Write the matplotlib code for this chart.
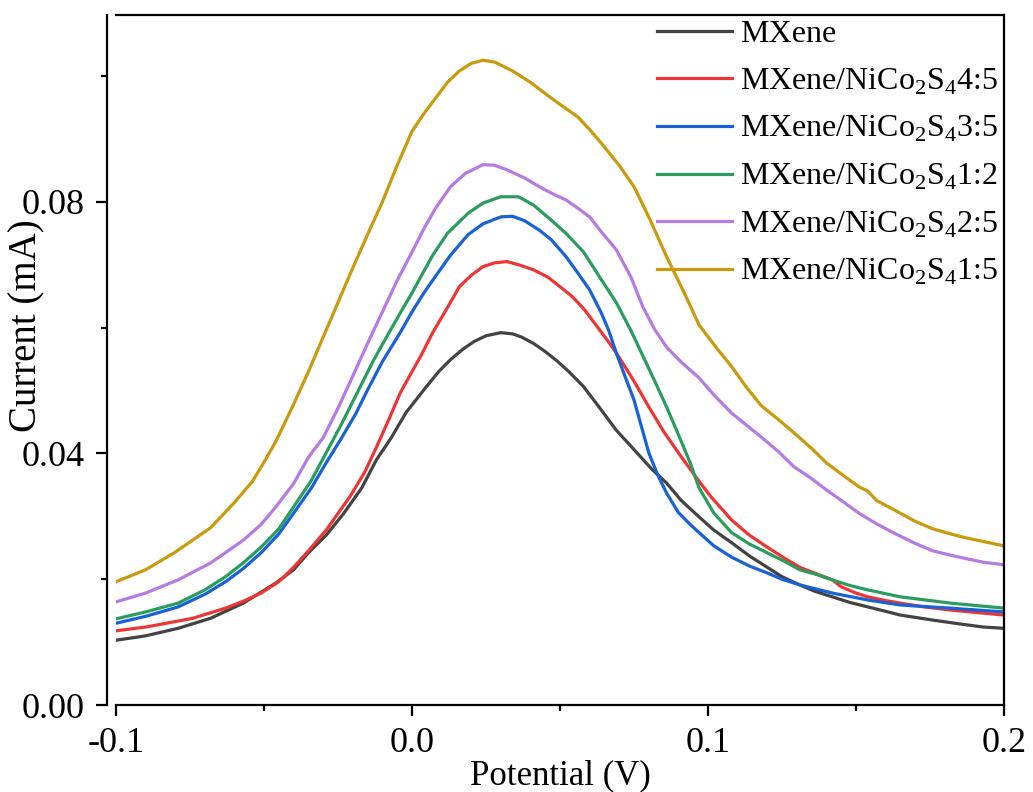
import numpy as np
import matplotlib
matplotlib.use('Agg')
import matplotlib.pyplot as plt
from matplotlib.ticker import MultipleLocator, FormatStrFormatter

plt.rcParams['font.family'] = ['Liberation Serif', 'DejaVu Serif']
plt.rcParams['mathtext.fontset'] = 'custom'
plt.rcParams['mathtext.rm'] = 'Liberation Serif'
plt.rcParams['axes.unicode_minus'] = False

# potential (V) / current (mA)
v_mx = [-0.100, -0.090, -0.079, -0.068, -0.057, -0.046, -0.040, -0.035, -0.029, -0.023, -0.017,
        -0.012, -0.007, -0.002, 0.004, 0.009, 0.013, 0.017, 0.021, 0.025, 0.030, 0.034, 0.037,
        0.041, 0.045, 0.049, 0.053, 0.058, 0.063, 0.069, 0.076, 0.081, 0.086, 0.091, 0.097,
        0.102, 0.108, 0.114, 0.120, 0.125, 0.131, 0.136, 0.142, 0.148, 0.154, 0.160, 0.165,
        0.176, 0.185, 0.193, 0.200]
i_mx = [0.0103, 0.0110, 0.0122, 0.0138, 0.0162, 0.0194, 0.0215, 0.0242, 0.0270, 0.0305, 0.0345,
        0.0390, 0.0425, 0.0465, 0.0501, 0.0530, 0.0549, 0.0565, 0.0578, 0.0587, 0.0592, 0.0590, 0.0585,
        0.0575, 0.0562, 0.0547, 0.0530, 0.0506, 0.0475, 0.0437, 0.0401, 0.0375, 0.0353, 0.0325, 0.0299,
        0.0278, 0.0258, 0.0237, 0.0219, 0.0204, 0.0191, 0.0181, 0.0172, 0.0163, 0.0156, 0.0149, 0.0143,
        0.0135, 0.0129, 0.0124, 0.0122]

v_45 = [-0.100, -0.090, -0.083, -0.074, -0.063, -0.057, -0.051, -0.045, -0.040, -0.035, -0.029,
        -0.021, -0.016, -0.012, -0.008, -0.004, 0.000, 0.003, 0.007, 0.012, 0.016, 0.020, 0.024,
        0.028, 0.032, 0.036, 0.041, 0.046, 0.050, 0.054, 0.058, 0.062, 0.066, 0.069, 0.075,
        0.080, 0.085, 0.090, 0.096, 0.101, 0.108, 0.114, 0.120, 0.126, 0.131, 0.137, 0.142,
        0.145, 0.150, 0.154, 0.160, 0.165, 0.173, 0.182, 0.191, 0.200]
i_45 = [0.0118, 0.0124, 0.0130, 0.0138, 0.0154, 0.0165, 0.0178, 0.0196, 0.0219, 0.0245, 0.0278,
        0.0331, 0.0370, 0.0410, 0.0452, 0.0496, 0.0530, 0.0555, 0.0592, 0.0632, 0.0665, 0.0683, 0.0697,
        0.0703, 0.0705, 0.0700, 0.0692, 0.0680, 0.0665, 0.0650, 0.0630, 0.0605, 0.0580, 0.0560, 0.0515,
        0.0474, 0.0435, 0.0401, 0.0362, 0.0331, 0.0294, 0.0270, 0.0251, 0.0233, 0.0219, 0.0208, 0.0199,
        0.0188, 0.0178, 0.0172, 0.0166, 0.0162, 0.0156, 0.0151, 0.0147, 0.0143]

v_35 = [-0.100, -0.090, -0.079, -0.070, -0.063, -0.057, -0.051, -0.045, -0.040, -0.034, -0.029,
        -0.024, -0.019, -0.015, -0.010, -0.004, 0.000, 0.004, 0.008, 0.013, 0.019, 0.024, 0.030,
        0.034, 0.038, 0.043, 0.047, 0.052, 0.056, 0.060, 0.064, 0.0665, 0.069, 0.072, 0.075,
        0.0775, 0.080, 0.083, 0.086, 0.090, 0.094, 0.097, 0.102, 0.108, 0.114, 0.120, 0.125,
        0.131, 0.142, 0.154, 0.165, 0.182, 0.200]
i_35 = [0.0130, 0.0141, 0.0156, 0.0176, 0.0196, 0.0217, 0.0242, 0.0272, 0.0305, 0.0345, 0.0385,
        0.0423, 0.0463, 0.0501, 0.0546, 0.0592, 0.0625, 0.0655, 0.0682, 0.0715, 0.0748, 0.0765, 0.0776,
        0.0777, 0.0770, 0.0755, 0.0740, 0.0713, 0.0687, 0.0660, 0.0623, 0.0595, 0.0560, 0.0522, 0.0485,
        0.0443, 0.0401, 0.0366, 0.0337, 0.0306, 0.0287, 0.0274, 0.0253, 0.0235, 0.0221, 0.0210, 0.0200,
        0.0191, 0.0178, 0.0167, 0.0159, 0.0154, 0.0148]

v_12 = [-0.100, -0.090, -0.079, -0.070, -0.063, -0.057, -0.051, -0.045, -0.040, -0.034, -0.029,
        -0.024, -0.018, -0.013, -0.008, -0.004, 0.000, 0.003, 0.007, 0.012, 0.019, 0.024, 0.030,
        0.036, 0.041, 0.047, 0.052, 0.058, 0.064, 0.069, 0.074, 0.078, 0.082, 0.086, 0.090,
        0.094, 0.097, 0.102, 0.108, 0.114, 0.120, 0.126, 0.131, 0.137, 0.142, 0.148, 0.154,
        0.165, 0.182, 0.200]
i_12 = [0.0137, 0.0148, 0.0162, 0.0183, 0.0204, 0.0226, 0.0251, 0.0280, 0.0315, 0.0357, 0.0401,
        0.0445, 0.0501, 0.0548, 0.0590, 0.0623, 0.0655, 0.0681, 0.0715, 0.0750, 0.0782, 0.0798, 0.0808,
        0.0808, 0.0795, 0.0771, 0.0750, 0.0720, 0.0676, 0.0640, 0.0595, 0.0555, 0.0515, 0.0474, 0.0430,
        0.0385, 0.0345, 0.0305, 0.0274, 0.0256, 0.0242, 0.0228, 0.0215, 0.0207, 0.0199, 0.0190, 0.0183,
        0.0172, 0.0162, 0.0154]

v_25 = [-0.100, -0.090, -0.079, -0.068, -0.057, -0.051, -0.046, -0.040, -0.035, -0.030, -0.025,
        -0.020, -0.015, -0.010, -0.005, 0.000, 0.004, 0.008, 0.013, 0.018, 0.024, 0.028, 0.032,
        0.038, 0.043, 0.047, 0.052, 0.056, 0.060, 0.064, 0.069, 0.074, 0.078, 0.082, 0.086,
        0.091, 0.097, 0.102, 0.108, 0.113, 0.118, 0.124, 0.129, 0.135, 0.140, 0.146, 0.151,
        0.157, 0.163, 0.170, 0.176, 0.184, 0.193, 0.200]
i_25 = [0.0164, 0.0178, 0.0199, 0.0226, 0.0262, 0.0287, 0.0315, 0.0352, 0.0394, 0.0425, 0.0472,
        0.0523, 0.0575, 0.0625, 0.0675, 0.0720, 0.0757, 0.0790, 0.0824, 0.0845, 0.0859, 0.0858, 0.0851,
        0.0838, 0.0824, 0.0814, 0.0803, 0.0790, 0.0776, 0.0752, 0.0724, 0.0680, 0.0633, 0.0597, 0.0569,
        0.0545, 0.0520, 0.0493, 0.0464, 0.0445, 0.0426, 0.0402, 0.0379, 0.0360, 0.0342, 0.0322, 0.0305,
        0.0288, 0.0273, 0.0257, 0.0245, 0.0236, 0.0227, 0.0223]

v_15 = [-0.100, -0.090, -0.080, -0.068, -0.060, -0.054, -0.050, -0.046, -0.040, -0.035, -0.030,
        -0.025, -0.020, -0.015, -0.010, -0.005, 0.000, 0.004, 0.008, 0.012, 0.016, 0.020, 0.024,
        0.028, 0.034, 0.040, 0.047, 0.056, 0.060, 0.064, 0.070, 0.075, 0.080, 0.086, 0.092,
        0.097, 0.103, 0.108, 0.113, 0.118, 0.124, 0.129, 0.135, 0.140, 0.146, 0.151, 0.154,
        0.157, 0.163, 0.170, 0.176, 0.182, 0.187, 0.194, 0.200]
i_15 = [0.0196, 0.0215, 0.0243, 0.0282, 0.0322, 0.0355, 0.0386, 0.0419, 0.0478, 0.0530, 0.0585,
        0.0640, 0.0695, 0.0748, 0.0800, 0.0858, 0.0912, 0.0940, 0.0965, 0.0990, 0.1008, 0.1020, 0.1025,
        0.1022, 0.1008, 0.0990, 0.0965, 0.0935, 0.0915, 0.0893, 0.0858, 0.0824, 0.0776, 0.0713, 0.0655,
        0.0604, 0.0567, 0.0538, 0.0505, 0.0476, 0.0453, 0.0433, 0.0408, 0.0385, 0.0364, 0.0347, 0.0340,
        0.0325, 0.0310, 0.0292, 0.0280, 0.0272, 0.0266, 0.0259, 0.0253]

labels = ['MXene',
          r'MXene/NiCo$_{\mathrm{2}}$S$_{\mathrm{4}}$4:5',
          r'MXene/NiCo$_{\mathrm{2}}$S$_{\mathrm{4}}$3:5',
          r'MXene/NiCo$_{\mathrm{2}}$S$_{\mathrm{4}}$1:2',
          r'MXene/NiCo$_{\mathrm{2}}$S$_{\mathrm{4}}$2:5',
          r'MXene/NiCo$_{\mathrm{2}}$S$_{\mathrm{4}}$1:5']
colors = ['#434343', '#EE3535', '#1862D6', '#2A9D5E', '#B57BE2', '#C99A0C']
series = [(v_mx, i_mx), (v_45, i_45), (v_35, i_35), (v_12, i_12), (v_25, i_25), (v_15, i_15)]

fig = plt.figure(figsize=(10.33, 7.92), dpi=100)
ax = fig.add_axes([0.1123, 0.1098, 0.8596, 0.8713])

for (v, i), lab, c in zip(series, labels, colors):
    ax.plot(v, i, color=c, lw=2.3, label=lab, solid_joinstyle='round')

ax.set_xlim(-0.1, 0.2)
ax.set_ylim(0, 0.1097)
ax.xaxis.set_major_locator(MultipleLocator(0.1))
ax.xaxis.set_minor_locator(MultipleLocator(0.05))
ax.yaxis.set_major_locator(MultipleLocator(0.04))
ax.yaxis.set_minor_locator(MultipleLocator(0.02))
ax.xaxis.set_major_formatter(FormatStrFormatter('%.1f'))
ax.yaxis.set_major_formatter(FormatStrFormatter('%.2f'))

for s in ax.spines.values():
    s.set_linewidth(1.6)
ax.spines['left'].set_position(('outward', 6.5))
ax.tick_params(which='major', direction='out', length=8, width=1.6, labelsize=26, pad=8)
ax.tick_params(which='minor', direction='out', length=4.5, width=1.6)
ax.tick_params(top=False, right=False, which='both')

ax.set_xlabel('Potential (V)', fontsize=25)
ax.set_ylabel('Current (mA)', fontsize=28)
ax.xaxis.set_label_coords(0.5, -0.079)
ax.yaxis.set_label_coords(-0.080, 0.55)

ax.legend(loc='upper left', bbox_to_anchor=(0.636, 0.975), bbox_transform=fig.transFigure,
          frameon=False, fontsize=23, handlelength=2.35, handletextpad=0.25,
          labelspacing=0.54, borderaxespad=0, borderpad=0)

fig.savefig('out.png', dpi=100)
